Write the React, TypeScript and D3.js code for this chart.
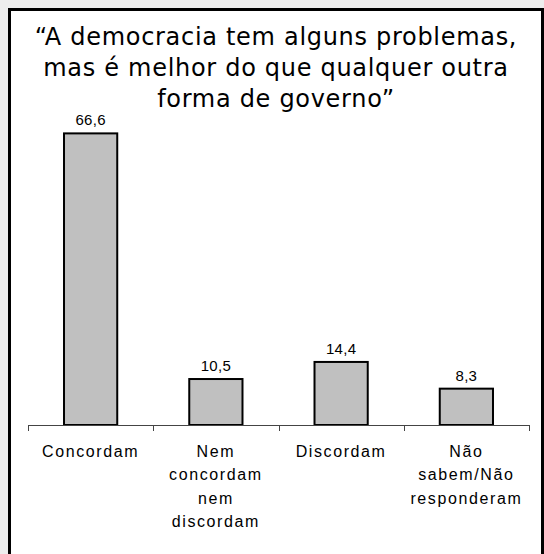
import React from "react";
import * as d3 from "d3";

const categories: string[][] = [
  ["Concordam"],
  ["Nem", "concordam", "nem", "discordam"],
  ["Discordam"],
  ["Não", "sabem/Não", "responderam"],
];
const values: number[] = [66.6, 10.5, 14.4, 8.3];
const valueLabels: string[] = ["66,6", "10,5", "14,4", "8,3"];
const titleLines: string[] = [
  "“A democracia tem alguns problemas,",
  "mas é melhor do que qualquer outra",
  "forma de governo”",
];

export default function App() {
  const W = 544;
  const H = 554;
  const x = d3
    .scaleBand<number>()
    .domain(d3.range(values.length))
    .range([28, 529])
    .paddingInner(0.575)
    .paddingOuter(0.2875);
  const y = d3.scaleLinear().domain([0, 70]).range([425, 118.5]);
  const ticks = d3.range(values.length + 1).map((i) => 28 + (i * (529 - 28)) / values.length);

  return (
    <div style={{ position: "fixed", left: 0, top: 0, width: W, height: H }}>
      <svg width={W} height={H} style={{ display: "block" }}>
        <rect x={0} y={0} width={W} height={H} fill="#eeeeee" />
        <rect x={9.5} y={9.5} width={533} height={600} fill="#ffffff" stroke="#000" strokeWidth={3} />
        <g fontFamily="'DejaVu Sans', sans-serif" fontSize={24} letterSpacing={0.7} fill="#000" textAnchor="middle">
          {titleLines.map((t, i) => (
            <text key={i} x={276} y={45 + i * 31}>
              {t}
            </text>
          ))}
        </g>
        {values.map((v, i) => (
          <g key={i}>
            <rect
              x={x(i)}
              y={y(v)}
              width={x.bandwidth()}
              height={y(0) - y(v)}
              fill="#c0c0c0"
              stroke="#000"
              strokeWidth={2}
            />
            <text
              x={(x(i) as number) + x.bandwidth() / 2}
              y={y(v) - 8}
              textAnchor="middle"
              fontFamily="'Liberation Sans', Arial, sans-serif"
              fontSize={15}
              letterSpacing={0.3}
              fill="#000"
            >
              {valueLabels[i]}
            </text>
          </g>
        ))}
        <line x1={28} x2={529} y1={425.5} y2={425.5} stroke="#444" strokeWidth={1} />
        {ticks.map((t, i) => (
          <line key={i} x1={Math.round(t) + 0.5} x2={Math.round(t) + 0.5} y1={425} y2={431} stroke="#444" strokeWidth={1} />
        ))}
        {categories.map((lines, i) => (
          <text
            key={i}
            textAnchor="middle"
            fontFamily="'Liberation Sans', Arial, sans-serif"
            fontSize={16}
            letterSpacing={1.6}
            fill="#000"
          >
            {lines.map((l, j) => (
              <tspan key={j} x={(x(i) as number) + x.bandwidth() / 2} y={457 + j * 23.3}>
                {l}
              </tspan>
            ))}
          </text>
        ))}
      </svg>
    </div>
  );
}
